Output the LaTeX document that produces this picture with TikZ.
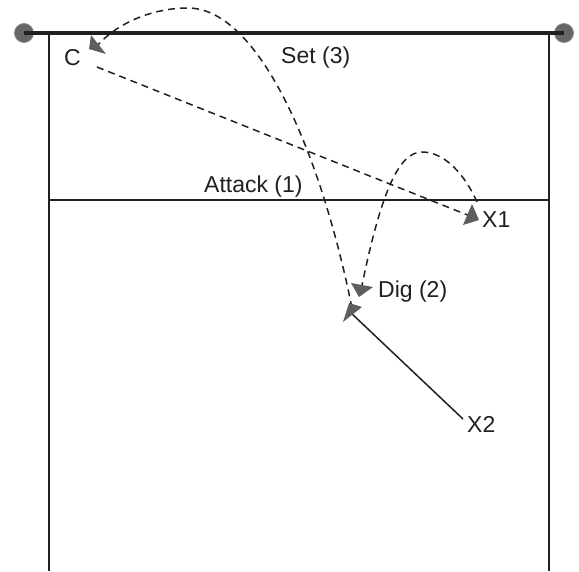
\documentclass[tikz,border=0pt]{standalone}
\usepackage{fontspec}
\setmainfont{Liberation Sans}
\begin{document}
\begin{tikzpicture}[x=1pt,y=-1pt,
  lbl/.style={inner sep=0pt, anchor=base west, text=inkc, font=\fontsize{23}{26}\selectfont},
  path dash/.style={draw=inkc, line width=1.5pt, dash pattern=on 7pt off 5pt},
  headtri/.style={fill=tipc, draw=none},
  post/.style={circle, fill=postc, draw=postd, line width=0.8pt, minimum size=19pt, inner sep=0pt}]
\definecolor{inkc}{HTML}{231F20}
\definecolor{tipc}{HTML}{5E5E5E}
\definecolor{postc}{HTML}{666666}
\definecolor{postd}{HTML}{8A8A8A}
\useasboundingbox (0,0) rectangle (579,571);
% court
\draw[inkc, line width=1.3pt] (49,33) -- (49,571);
\draw[inkc, line width=1.3pt] (549,33) -- (549,571);
\draw[inkc, line width=2pt] (49,200) -- (549,200);
% net and posts
\node[post] (postL) at (24,33) {};
\node[post] (postR) at (564,33) {};
\draw[inkc, line width=4pt] (postL.center) -- (postR.center);
% labels
\node[lbl] (C) at (64,65) {C};
\node[lbl] (set) at (281,63) {Set (3)};
\node[lbl] (attack) at (204,192) {Attack (1)};
\node[lbl] (X1) at (482,227) {X1};
\node[lbl] (dig) at (378,297) {Dig (2)};
\node[lbl] (X2) at (467,432) {X2};
% path end points
\coordinate (aStart) at (97,67);
\coordinate (aEnd) at (475,218);
\coordinate (dStart) at (477,202);
\coordinate (dEnd) at (360,295);
\coordinate (sStart) at (352,308);
\coordinate (sEnd) at (97,46);
\coordinate (mStart) at (463,419);
\coordinate (mEnd) at (350,312);
% attack (1)
\draw[path dash] (aStart) -- (aEnd);
% dig (2)
\draw[path dash] (dStart) .. controls (465,175) and (445,152) .. (422,152)
  .. controls (398,152) and (380,195) .. (dEnd);
% set (3)
\draw[path dash] (sStart) .. controls (318,140) and (255,8) .. (188,8)
  .. controls (150,8) and (115,25) .. (sEnd);
% X2 movement
\draw[inkc, line width=1.5pt] (mStart) -- (mEnd);
% arrow heads
\fill[headtri] (91,35) -- (89,49) -- (106,54) -- cycle;
\fill[headtri] (463,225) -- (472,204) -- (479,220) -- cycle;
\fill[headtri] (351,283) -- (373,287) -- (359,297) -- cycle;
\fill[headtri] (343,322) -- (349,303) -- (362,307) -- cycle;
\end{tikzpicture}
\end{document}
